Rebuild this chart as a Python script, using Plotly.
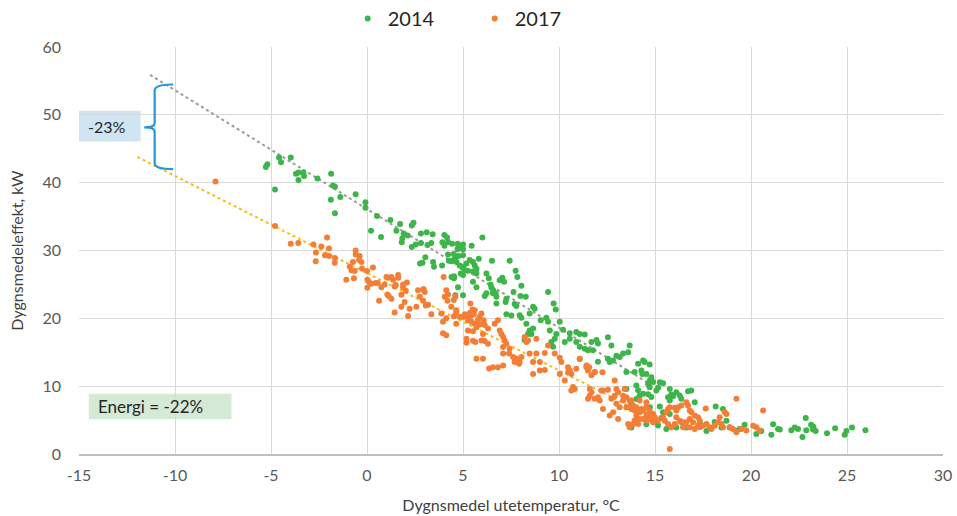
import plotly.graph_objects as go

# ---------------- data ----------------
series_names = ["2014", "2017"]
x_ticks = [-15, -10, -5, 0, 5, 10, 15, 20, 25, 30]
y_ticks = [0, 10, 20, 30, 40, 50, 60]

points_2014 = [
    (-5.27, 42.3), (-5.19, 42.7), (-4.58, 43.7), (-4.48, 43.0), (-3.97, 43.7), (-4.79, 39.0),
    (-3.70, 41.3), (-3.57, 41.5), (-3.31, 41.5), (-3.28, 41.0), (-3.57, 40.4),
    (-2.58, 40.6), (-1.87, 41.3), (-1.77, 39.6), (-1.67, 39.4), (-1.39, 37.9), (-1.88, 37.5),
    (-1.67, 35.5), (-0.59, 38.3), (-0.08, 37.1), (-0.08, 36.3), (0.52, 35.1), (0.21, 32.9),
    (0.73, 32.0), (1.22, 34.5), (1.53, 32.9), (1.72, 33.9), (1.84, 31.8), (1.81, 31.2),
    (1.91, 32.5), (2.12, 32.2), (2.33, 33.7), (2.42, 34.1), (2.33, 30.5), (2.54, 30.9),
    (2.81, 32.5), (2.81, 31.1), (3.11, 32.7), (3.15, 30.8), (3.35, 31.1), (3.42, 32.4),
    (3.04, 29.0), (2.76, 28.1), (2.89, 28.2), (3.44, 28.3), (3.49, 27.6), (3.91, 27.8),
    (4.03, 32.3), (4.17, 31.9), (3.93, 31.2), (4.03, 30.7), (4.22, 31.2), (4.22, 29.4), (4.26, 28.5),
    (4.43, 31.0), (4.72, 31.0), (4.76, 30.4), (5.00, 30.9), (4.72, 30.2), (5.00, 30.2), (5.45, 30.7),
    (6.01, 31.9), (4.52, 29.5), (4.76, 29.2), (5.00, 29.3), (4.52, 28.6), (4.40, 28.4), (4.58, 28.8),
    (4.66, 28.3), (4.83, 27.8), (5.02, 27.6), (5.18, 28.1), (5.35, 28.6), (5.52, 28.3), (5.82, 28.8),
    (5.61, 27.8), (5.70, 27.3), (5.70, 26.6), (5.52, 26.9), (5.26, 27.0), (5.10, 27.1), (4.97, 27.5),
    (4.53, 26.2), (4.53, 25.9), (5.00, 26.4), (4.88, 26.6), (4.74, 24.6), (5.52, 25.4), (5.70, 24.6),
    (6.22, 23.7), (6.13, 23.3), (6.56, 23.7), (6.51, 28.5), (6.22, 26.6), (6.34, 25.9), (6.44, 25.0),
    (6.48, 24.5), (6.70, 23.7), (7.05, 26.0), (6.91, 25.6), (7.14, 25.4), (7.43, 28.5), (7.74, 27.0),
    (7.83, 26.1), (8.04, 24.8), (7.63, 23.9), (7.99, 23.3), (8.27, 23.2), (9.43, 23.9), (4.60, 23.4),
    (5.00, 23.4), (4.40, 26.1), (6.57, 24.15), (6.74, 23.2), (7.26, 22.9),
    (6.74, 22.2), (7.22, 22.4), (7.69, 22.1), (7.78, 21.8), (7.26, 20.6), (7.52, 20.4), (7.95, 20.45),
    (8.04, 20.1), (8.47, 20.7), (8.65, 21.7), (8.73, 21.4), (9.72, 22.2), (9.83, 21.3), (8.30, 19.2),
    (8.47, 18.2), (8.56, 17.7), (8.21, 16.8), (8.39, 17.7), (8.65, 18.5), (9.05, 19.7), (9.34, 20.1),
    (9.43, 19.5), (10.04, 19.5), (9.52, 18.2), (9.86, 17.7), (10.21, 18.3), (9.78, 17.0), (9.60, 16.5),
    (9.69, 15.8), (10.30, 16.5), (10.56, 17.8), (10.56, 17.0), (10.90, 18.0), (11.08, 17.7),
    (11.34, 17.6), (10.90, 16.5), (11.08, 15.8), (11.34, 15.5), (11.51, 15.3), (11.69, 16.5),
    (11.95, 16.8), (12.03, 16.3), (11.77, 15.3), (11.08, 14.0), (12.03, 13.6), (11.86, 12.1),
    (12.55, 17.2), (12.73, 16.0), (12.99, 14.5), (13.16, 14.3), (13.34, 14.8), (13.60, 15.0),
    (13.68, 16.0), (12.55, 14.05), (12.64, 13.55), (12.81, 13.8), (13.51, 12.1), (13.94, 12.1),
    (14.12, 13.3), (14.38, 13.8), (14.46, 13.55), (14.72, 13.2), (14.29, 12.3), (14.34, 11.8),
    (14.55, 11.8), (14.72, 10.8), (14.81, 11.3), (14.64, 10.35), (14.72, 9.85), (14.90, 10.6),
    (14.03, 10.1), (13.51, 9.6), (14.12, 9.4), (14.38, 8.9), (14.64, 8.8), (14.81, 8.4),
    (14.99, 4.9), (14.55, 4.4), (13.77, 3.9), (14.03, 8.1), (14.20, 8.6), (14.29, 6.4), (14.73, 6.9),
    (13.77, 7.4),
    (15.25, 10.59), (15.42, 10.44), (15.16, 9.75), (15.07, 9.36), (15.77, 9.6), (15.85, 8.77),
    (16.11, 9.11), (16.29, 8.62), (16.37, 8.13), (15.68, 8.37), (15.77, 7.88), (15.94, 8.52),
    (16.72, 9.26), (16.89, 9.36), (17.07, 7.63), (15.25, 7.0), (15.42, 6.16), (15.77, 5.9),
    (15.33, 5.3), (15.16, 4.2), (15.59, 3.7), (16.11, 3.9), (16.37, 4.7), (16.63, 3.9),
    (17.33, 4.7), (17.68, 3.4), (18.11, 4.7), (18.16, 7.0), (18.54, 6.65), (18.72, 4.9),
    (18.89, 3.9), (18.46, 3.9), (19.24, 3.4), (19.41, 3.7), (19.67, 4.3), (20.28, 2.95),
    (20.54, 3.4), (21.06, 2.85), (21.15, 4.4), (21.41, 3.7), (21.50, 3.6), (22.10, 3.5),
    (22.28, 3.9), (22.45, 3.7), (22.85, 5.3), (22.68, 2.5), (22.88, 3.5), (23.23, 3.6),
    (23.37, 3.4), (23.96, 3.05), (24.38, 3.8), (24.88, 2.85), (24.97, 3.4), (25.26, 3.9),
    (25.96, 3.5), (23.13, 4.3), (23.25, 4.0),
]

points_2017 = [
    (-7.89, 40.16), (-4.79, 33.6), (-3.97, 31.0), (-3.58, 31.1), (-2.79, 30.9), (-2.38, 30.6),
    (-2.66, 29.7), (-2.08, 31.9), (-1.98, 30.3), (-2.19, 29.3), (-1.98, 29.2), (-1.67, 28.9),
    (-2.67, 28.4), (-1.68, 28.2), (-0.59, 30.0), (-0.59, 29.4), (-0.38, 29.2), (-0.73, 28.3),
    (-0.29, 28.3), (-0.90, 27.6), (-0.80, 27.1), (-0.64, 26.96), (-1.08, 25.7), (-0.68, 25.9),
    (0.00, 26.96), (0.31, 27.5), (0.02, 25.7), (0.09, 25.4), (0.02, 24.5), (0.23, 25.1),
    (0.45, 25.2), (0.75, 24.6), (0.92, 25.0), (1.01, 26.1), (1.10, 25.98), (1.36, 25.7),
    (1.62, 26.4), (1.63, 26.0), (1.44, 24.7), (1.88, 25.0), (2.08, 25.3), (1.88, 24.6),
    (2.95, 24.3), (-0.41, 28.6), (-0.26, 27.35), (2.66, 24.15), (2.92, 24.25), (3.99, 26.1),
    (4.13, 24.15), (1.27, 26.1), (1.50, 24.9), (0.56, 25.2),
    (0.63, 22.6), (1.13, 23.3), (1.27, 22.9), (1.06, 23.5), (1.44, 20.85), (1.79, 23.46),
    (2.02, 24.05), (1.96, 22.4), (1.79, 21.7), (2.14, 20.35), (2.22, 21.4), (3.00, 23.9),
    (2.75, 23.2), (2.92, 22.6), (3.06, 21.9), (2.57, 21.7), (3.18, 22.0), (3.35, 20.6),
    (3.87, 20.7), (4.13, 20.0), (4.39, 21.7), (3.96, 19.5), (4.05, 23.2), (4.22, 23.5),
    (4.52, 22.7), (4.60, 23.2), (4.19, 22.6), (4.65, 21.2), (4.83, 20.2), (5.09, 20.6),
    (5.18, 20.3), (5.26, 19.7), (5.35, 20.8), (5.49, 21.3), (5.56, 20.55), (5.78, 19.8),
    (5.87, 20.2), (5.61, 19.2), (5.44, 19.5), (5.70, 18.7), (5.87, 19.1), (4.65, 19.2),
    (4.65, 20.85), (3.96, 17.8), (4.13, 17.5), (5.26, 18.2), (5.52, 18.1), (5.18, 17.0),
    (5.52, 16.7), (5.18, 16.4), (5.64, 16.5), (5.61, 21.2), (4.53, 20.3), (5.40, 20.35),
    (5.38, 22.2), (5.00, 20.2), (5.70, 14.05),
    (5.96, 20.7), (6.08, 19.7), (6.13, 19.0), (6.30, 18.5), (6.04, 17.7), (5.96, 16.75),
    (6.13, 16.66), (6.30, 16.26), (6.65, 19.2), (6.82, 19.7), (6.91, 18.2), (7.00, 17.7),
    (7.09, 17.25), (7.17, 16.75), (7.26, 16.26), (7.09, 15.77), (7.43, 15.5), (7.09, 14.8),
    (7.40, 14.8), (6.56, 12.8), (6.36, 12.6), (6.82, 12.8), (7.09, 13.06), (6.04, 14.05),
    (7.61, 14.3), (7.78, 14.05), (7.95, 13.55), (8.04, 14.3), (7.69, 13.55), (7.92, 13.3),
    (8.65, 13.55), (8.82, 14.8), (9.00, 13.55), (8.65, 11.8), (8.47, 14.8), (8.30, 16.5),
    (8.21, 17.25), (8.39, 16.75), (8.82, 17.0), (9.26, 14.9), (9.26, 12.4), (9.00, 12.3),
    (9.78, 14.8), (10.04, 14.2), (10.12, 13.55), (10.04, 11.8), (10.30, 10.84), (10.47, 12.8),
    (10.56, 12.3), (10.64, 11.8), (10.47, 12.07), (10.73, 9.86), (10.82, 9.6), (10.64, 9.36),
    (11.08, 14.05), (10.90, 12.57), (11.43, 12.8), (11.51, 12.3), (11.60, 9.6), (11.69, 9.1),
    (11.51, 8.13), (11.86, 8.13), (12.12, 7.88), (12.03, 8.38), (12.21, 9.36), (11.86, 12.07),
    (12.26, 12.07), (12.29, 9.36), (12.55, 9.46), (12.90, 10.84), (12.99, 9.6), (13.08, 9.1),
    (13.34, 8.6), (13.51, 8.38), (13.68, 7.88), (12.99, 7.39), (13.16, 6.9), (13.51, 6.9),
    (13.77, 6.65), (13.94, 6.4), (14.03, 6.9), (14.20, 6.16), (14.38, 6.4), (14.55, 5.67),
    (14.55, 6.9), (14.72, 6.4), (14.90, 5.9), (14.03, 5.67), (13.94, 4.93), (14.12, 4.43),
    (14.38, 5.17), (14.55, 4.93), (14.81, 5.17), (14.99, 5.42), (13.60, 4.43), (13.08, 5.17),
    (12.64, 5.67), (12.29, 6.65), (13.77, 7.88), (9.43, 16.0),
    (11.43, 13.05), (11.57, 12.8), (11.69, 11.6), (11.60, 8.6), (12.73, 8.13), (12.90, 8.6),
    (13.42, 9.6), (13.34, 7.88), (12.82, 6.16), (13.60, 6.9), (13.86, 7.14), (14.20, 7.88),
    (14.55, 7.63), (14.29, 6.65), (14.20, 5.17), (14.64, 5.9), (14.72, 5.17), (14.90, 4.68),
    (15.16, 4.92), (13.68, 3.94), (13.86, 4.43),
    (15.68, 6.65), (15.59, 6.16), (15.77, 6.9), (16.03, 6.8), (16.11, 6.4), (16.20, 6.9),
    (16.37, 7.14), (16.63, 7.63), (16.72, 7.14), (16.81, 6.4), (16.89, 6.16), (17.07, 5.66),
    (17.24, 5.42), (17.33, 4.92), (16.11, 5.42), (16.29, 4.92), (16.46, 4.68), (16.55, 4.18),
    (16.63, 4.68), (16.81, 5.17), (16.98, 4.68), (17.24, 4.18), (17.33, 3.94), (17.50, 4.18),
    (17.68, 4.43), (17.85, 3.94), (17.94, 3.69), (18.11, 4.18), (18.28, 4.68), (18.37, 5.42),
    (18.63, 6.16), (18.72, 5.9), (18.46, 4.43), (18.54, 3.94), (18.89, 3.94), (19.06, 3.69),
    (19.24, 3.2), (19.50, 3.69), (19.76, 3.45), (20.11, 4.18), (20.28, 3.94), (20.45, 3.45),
    (17.64, 6.7), (19.24, 8.13), (20.63, 6.4), (15.77, 0.73), (15.51, 4.92), (15.68, 4.43),
    (15.85, 3.94), (16.03, 4.43), (17.07, 3.69), (16.46, 3.94), (16.81, 3.94), (15.42, 5.42),
]

temp_2014 = [p[0] for p in points_2014]
power_2014 = [p[1] for p in points_2014]
temp_2017 = [p[0] for p in points_2017]
power_2017 = [p[1] for p in points_2017]

# linear trend lines (end points)
trend_2014_x = [-11.3, 14.8]
trend_2014_y = [55.9, 10.2]
trend_2017_x = [-11.96, 14.9]
trend_2017_y = [43.8, 5.3]

label_reduction = "-23%"
label_energy = "Energi = -22%"

# ---------------- styling ----------------
GREEN = "#3DB54A"
ORANGE = "#F47E36"
FONT = "Lato, 'Open Sans', sans-serif"

fig = go.Figure()

fig.add_trace(go.Scatter(
    x=trend_2014_x, y=trend_2014_y, mode="lines", showlegend=False, hoverinfo="skip",
    line=dict(color="#9B9B9B", width=2, dash="dot")))
fig.add_trace(go.Scatter(
    x=trend_2017_x, y=trend_2017_y, mode="lines", showlegend=False, hoverinfo="skip",
    line=dict(color="#FFB81C", width=2, dash="dot")))

fig.add_trace(go.Scatter(
    x=temp_2014, y=power_2014, mode="markers", name=series_names[0],
    marker=dict(color=GREEN, size=6, line=dict(width=0))))
fig.add_trace(go.Scatter(
    x=temp_2017, y=power_2017, mode="markers", name=series_names[1],
    marker=dict(color=ORANGE, size=6, line=dict(width=0))))

# annotation boxes
fig.add_shape(type="rect", xref="x", yref="y", x0=-15, x1=-11.79, y0=46.07, y1=50.6,
              fillcolor="#CFE5F3", line=dict(width=0), layer="below")
fig.add_annotation(x=-13.55, y=48.3, xref="x", yref="y", text=label_reduction, showarrow=False,
                   font=dict(size=16, color="#262626", family=FONT))

fig.add_shape(type="rect", xref="x", yref="y", x0=-14.49, x1=-7.06, y0=5.12, y1=8.87,
              fillcolor="#D5EAD6", line=dict(width=0), layer="below")
fig.add_annotation(x=-11.3, y=6.95, xref="x", yref="y", text=label_energy, showarrow=False,
                   font=dict(size=17, color="#262626", family=FONT))

# curly brace
xv, xr, xl = -11.06, -10.1, -11.6
yt, ym, yb = 54.47, 48.15, 42.0
brace = (f"M {xr},{yt} Q {xv},{yt} {xv},{yt-0.9} L {xv},{ym+0.6} "
         f"Q {xv},{ym} {xl},{ym} Q {xv},{ym} {xv},{ym-0.6} "
         f"L {xv},{yb+0.9} Q {xv},{yb} {xr},{yb}")
fig.add_shape(type="path", xref="x", yref="y", path=brace,
              line=dict(color="#1E9AD8", width=2.2))

axis_common = dict(
    showgrid=True, gridcolor="#D9D9D9", gridwidth=1, zeroline=False,
    tickfont=dict(size=16, color="#595959", family=FONT),
    ticks="", fixedrange=True, automargin=False,
)

fig.update_layout(
    width=957, height=516,
    margin=dict(l=79, r=14, t=47, b=62, autoexpand=False),
    paper_bgcolor="white", plot_bgcolor="white",
    font=dict(family=FONT),
    showlegend=True,
    legend=dict(orientation="h", x=0.458, xanchor="center", y=1.07, yanchor="middle",
                font=dict(size=20, color="#262626", family=FONT),
                entrywidth=82, entrywidthmode="pixels", bgcolor="rgba(0,0,0,0)"),
    xaxis=dict(range=[-15, 30], tickvals=x_ticks, ticktext=[str(v) for v in x_ticks],
               showline=True, linecolor="#BFBFBF", linewidth=1.5,
               ticklabelstandoff=6,
               title=dict(text="Dygnsmedel utetemperatur, °C", standoff=17,
                          font=dict(size=16, color="#404040", family=FONT)),
               **axis_common),
    yaxis=dict(range=[0, 60], tickvals=y_ticks, ticktext=[str(v) for v in y_ticks],
               showline=False, ticklabelstandoff=17,
               title=dict(text="Dygnsmedeleffekt, kW", standoff=14,
                          font=dict(size=16, color="#404040", family=FONT)),
               **axis_common),
)

fig.write_html("out.html", config={"displayModeBar": False},
               post_script="document.body.style.margin='0';")
